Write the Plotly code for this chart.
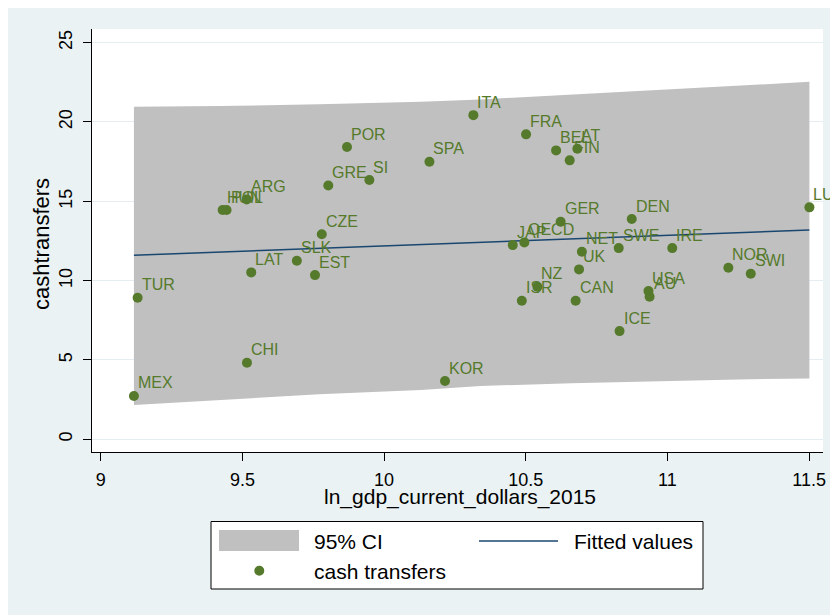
import plotly.graph_objects as go

# ---- data ----
countries = ["MEX", "KOR", "TUR", "CHI", "ICE", "LAT", "SLK", "EST", "CZE", "GRE",
             "SI", "POR", "HUN", "POL", "ARG", "ITA", "FRA", "SPA", "BEL", "AT",
             "FIN", "GER", "DEN", "LUX", "JAP", "OECD", "NET", "SWE", "IRE", "UK",
             "NOR", "SWI", "NZ", "ISR", "CAN", "USA", "AU"]
ln_gdp = [9.117, 10.215, 9.130, 9.516, 10.831, 9.531, 9.692, 9.756, 9.780, 9.803,
          9.948, 9.869, 9.430, 9.444, 9.515, 10.315, 10.501, 10.160, 10.607, 10.682,
          10.655, 10.623, 10.874, 11.501, 10.454, 10.495, 10.698, 10.828, 11.017, 10.688,
          11.215, 11.294, 10.541, 10.486, 10.676, 10.933, 10.937]
cash_transfers = [2.73, 3.67, 8.92, 4.83, 6.82, 10.52, 11.25, 10.35, 12.92, 16.00,
                  16.34, 18.42, 14.45, 14.45, 15.12, 20.43, 19.22, 17.49, 18.21, 18.31,
                  17.58, 13.71, 13.88, 14.62, 12.24, 12.41, 11.82, 12.05, 12.05, 10.71,
                  10.81, 10.43, 9.62, 8.73, 8.73, 9.34, 8.99]

ci_x = [9.117, 9.42, 9.77, 10.13, 10.34, 10.66, 11.01, 11.25, 11.501]
ci_upper = [20.96, 21.00, 21.12, 21.27, 21.42, 21.73, 22.05, 22.26, 22.53]
ci_lower = [2.16, 2.48, 2.84, 3.11, 3.36, 3.53, 3.69, 3.77, 3.84]

fit_x = [9.117, 11.501]
fit_y = [11.60, 13.19]

x_ticks = [9, 9.5, 10, 10.5, 11, 11.5]
x_ticklabels = ["9", "9.5", "10", "10.5", "11", "11.5"]
y_ticks = [0, 5, 10, 15, 20, 25]

legend_labels = ["95% CI", "Fitted values", "cash transfers"]

# ---- style ----
FONT = "Liberation Sans, Arial, Helvetica, sans-serif"
GREEN = "#557A2B"
GRAY = "#C0C0C0"
NAVY = "#1A476F"
BG = "#EAF2F3"

W, H = 838, 615
OFF = 8  # page offset of the figure (body margin)
L, R, T, B = 84, 23, 21, 171
PW, PH = W - L - R, H - T - B


def px(x):
    """page x pixel -> paper coordinate"""
    return (x - OFF - L) / PW


def py(y):
    """page y pixel -> paper coordinate"""
    return (H - B - (y - OFF)) / PH


fig = go.Figure()

fig.add_trace(go.Scatter(x=ci_x, y=ci_lower, mode="lines", line=dict(width=0),
                         showlegend=False, hoverinfo="skip"))
fig.add_trace(go.Scatter(x=ci_x, y=ci_upper, mode="lines", line=dict(width=0),
                         fill="tonexty", fillcolor=GRAY, showlegend=False,
                         name=legend_labels[0]))
fig.add_trace(go.Scatter(x=fit_x, y=fit_y, mode="lines",
                         line=dict(color=NAVY, width=1.5), showlegend=False,
                         name=legend_labels[1]))
fig.add_trace(go.Scatter(x=ln_gdp, y=cash_transfers, mode="markers",
                         marker=dict(color=GREEN, size=10), showlegend=False,
                         text=countries, name=legend_labels[2]))

annotations = []
for c, xv, yv in zip(countries, ln_gdp, cash_transfers):
    annotations.append(dict(x=xv, y=yv, xref="x", yref="y", text=c, showarrow=False,
                            xanchor="left", yanchor="middle", xshift=3, yshift=13,
                            borderpad=0,
                            font=dict(family=FONT, size=16, color=GREEN)))

# axis titles
annotations.append(dict(x=px(460), y=py(497), xref="paper", yref="paper",
                        text="ln_gdp_current_dollars_2015", showarrow=False,
                        xanchor="center", yanchor="middle",
                        font=dict(family=FONT, size=21, color="black")))
annotations.append(dict(x=px(42), y=py(244), xref="paper", yref="paper",
                        text="cashtransfers", showarrow=False, textangle=-90,
                        xanchor="center", yanchor="middle",
                        font=dict(family=FONT, size=22, color="black")))

# legend (drawn by hand)
annotations.append(dict(x=px(312), y=py(541.5), xref="paper", yref="paper",
                        text=legend_labels[0], showarrow=False, xanchor="left",
                        yanchor="middle", font=dict(family=FONT, size=21, color="black")))
annotations.append(dict(x=px(572), y=py(541.5), xref="paper", yref="paper",
                        text=legend_labels[1], showarrow=False, xanchor="left",
                        yanchor="middle", font=dict(family=FONT, size=21, color="black")))
annotations.append(dict(x=px(312), y=py(571.5), xref="paper", yref="paper",
                        text=legend_labels[2], showarrow=False, xanchor="left",
                        yanchor="middle", font=dict(family=FONT, size=21, color="black")))

shapes = [
    dict(type="rect", xref="paper", yref="paper", x0=px(211), x1=px(703),
         y0=py(589), y1=py(521.5), fillcolor="white",
         line=dict(color="black", width=1)),
    dict(type="rect", xref="paper", yref="paper", x0=px(219), x1=px(299),
         y0=py(551), y1=py(530), fillcolor=GRAY, line=dict(width=0)),
    dict(type="line", xref="paper", yref="paper", x0=px(479), x1=px(558),
         y0=py(541), y1=py(541), line=dict(color=NAVY, width=1.5)),
    dict(type="circle", xref="paper", yref="paper", x0=px(254.3), x1=px(264.3),
         y0=py(575.7), y1=py(565.7), fillcolor=GREEN, line=dict(width=0)),
]

fig.update_layout(
    width=W, height=H,
    margin=dict(l=L, r=R, t=T, b=B, autoexpand=False),
    paper_bgcolor=BG, plot_bgcolor="white",
    showlegend=False,
    font=dict(family=FONT, size=18, color="black"),
    annotations=annotations,
    shapes=shapes,
    xaxis=dict(range=[8.969, 11.549], tickvals=x_ticks, ticktext=x_ticklabels,
               showgrid=False, zeroline=False, showline=True, linecolor="black",
               linewidth=1.2, ticks="outside", ticklen=8, tickcolor="black",
               ticklabelstandoff=3,
               tickfont=dict(family=FONT, size=18, color="black")),
    yaxis=dict(range=[-0.80, 25.86], tickvals=y_ticks, showgrid=True,
               gridcolor="#E4EEF0", gridwidth=1, zeroline=False, showline=True,
               linecolor="black", linewidth=1.2, ticks="outside", ticklen=8,
               tickcolor="black", tickangle=-90, ticklabelstandoff=4,
               tickfont=dict(family=FONT, size=18, color="black")),
)

fig.write_html("out.html")
